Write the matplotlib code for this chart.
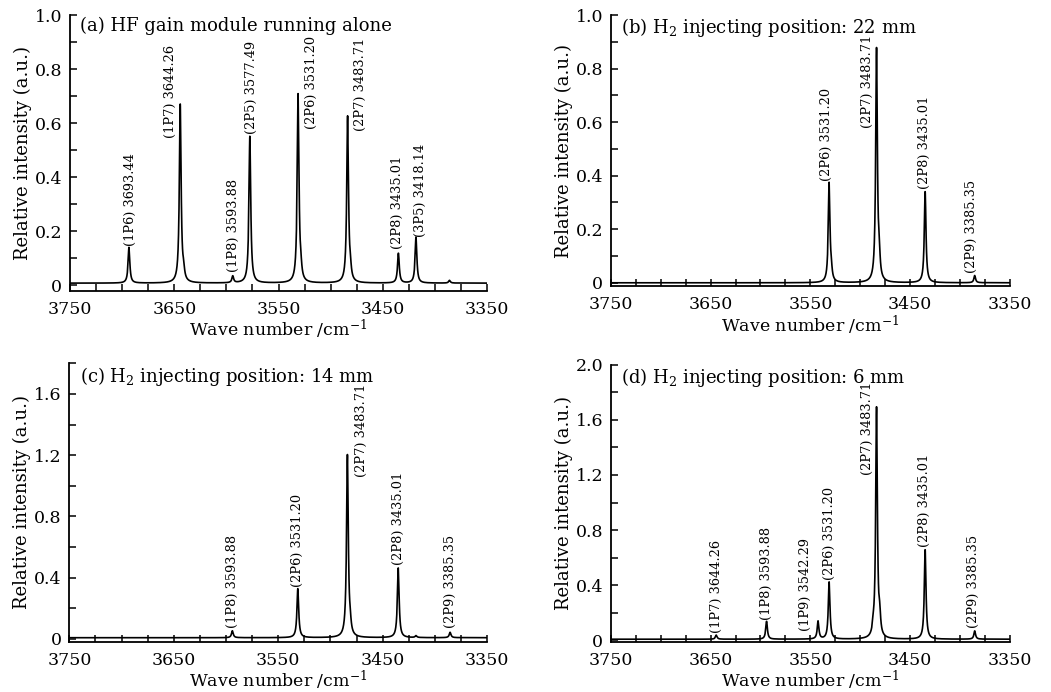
import numpy as np
import matplotlib
matplotlib.use("Agg")
import matplotlib.pyplot as plt
from matplotlib.ticker import MultipleLocator, FixedLocator, FixedFormatter

plt.rcParams['font.family'] = ['DejaVu Serif']
plt.rcParams['mathtext.fontset'] = 'dejavuserif'

# ---------------- data ----------------
# (a) HF gain module running alone
a_labels = ["(1P6) 3693.44", "(1P7) 3644.26", "(1P8) 3593.88", "(2P5) 3577.49",
            "(2P6) 3531.20", "(2P7) 3483.71", "(2P8) 3435.01", "(3P5) 3418.14"]
a_center = [3693.44, 3644.26, 3593.88, 3577.49, 3531.20, 3483.71, 3435.01, 3418.14]
a_height = [0.132, 0.66, 0.025, 0.543, 0.697, 0.615, 0.11, 0.17]
a_extra_center = [3641.0, 3528.5, 3481.0, 3386.0]
a_extra_height = [0.03, 0.03, 0.03, 0.01]
a_baseline = 0.008

# (b) H2 injecting position: 22 mm
b_labels = ["(2P6) 3531.20", "(2P7) 3483.71", "(2P8) 3435.01", "(2P9) 3385.35"]
b_center = [3531.20, 3483.71, 3435.01, 3385.35]
b_height = [0.37, 0.87, 0.34, 0.027]
b_extra_center = [3481.0, 3529.0]
b_extra_height = [0.07, 0.03]
b_baseline = 0.0

# (c) H2 injecting position: 14 mm
c_labels = ["(1P8) 3593.88", "(2P6) 3531.20", "(2P7) 3483.71", "(2P8) 3435.01", "(2P9) 3385.35"]
c_center = [3593.88, 3531.20, 3483.71, 3435.01, 3385.35]
c_height = [0.045, 0.32, 1.19, 0.455, 0.035]
c_extra_center = [3418.0, 3481.0]
c_extra_height = [0.012, 0.05]
c_baseline = 0.008

# (d) H2 injecting position: 6 mm
d_labels = ["(1P7) 3644.26", "(1P8) 3593.88", "(1P9) 3542.29", "(2P6) 3531.20",
            "(2P7) 3483.71", "(2P8) 3435.01", "(2P9) 3385.35"]
d_center = [3644.26, 3593.88, 3542.29, 3531.20, 3483.71, 3435.01, 3385.35]
d_height = [0.03, 0.13, 0.13, 0.415, 1.675, 0.65, 0.06]
d_extra_center = [3480.5, 3487.0]
d_extra_height = [0.12, 0.05]
d_baseline = 0.006

titles = ["(a) HF gain module running alone",
          "(b) H$_2$ injecting position: 22 mm",
          "(c) H$_2$ injecting position: 14 mm",
          "(d) H$_2$ injecting position: 6 mm"]

# ---------------- layout ----------------
a_lab_x = [3692, 3654, 3593.5, 3576, 3518.5, 3471, 3436, 3414]
a_lab_y = [0.145, 0.545, 0.05, 0.56, 0.58, 0.57, 0.136, 0.18]
b_lab_x = [3533.6, 3492.6, 3435.8, 3388.4]
b_lab_y = [0.38, 0.578, 0.35, 0.035]
c_lab_x = [3594, 3531.5, 3470.3, 3434.5, 3384.8]
c_lab_y = [0.07, 0.34, 1.06, 0.48, 0.07]
d_lab_x = [3644.5, 3593.7, 3555.3, 3531, 3492.6, 3435.8, 3386.7]
d_lab_y = [0.05, 0.145, 0.068, 0.44, 1.2, 0.674, 0.085]

panels = [
    dict(pos=[0.0666, 0.5799, 0.3968, 0.3984], ylim=(-0.02, 1.0), ymajor=[0, 0.2, 0.4, 0.6, 0.8, 1.0],
         ylabels=["0", "0.2", "0.4", "0.6", "0.8", "1.0"], yminor=0.1,
         center=a_center, height=a_height, ec=a_extra_center, eh=a_extra_height, base=a_baseline,
         labels=a_labels, lx=a_lab_x, ly=a_lab_y),
    dict(pos=[0.5811, 0.5867, 0.3799, 0.3916], ylim=(-0.012, 1.0), ymajor=[0, 0.2, 0.4, 0.6, 0.8, 1.0],
         ylabels=["0", "0.2", "0.4", "0.6", "0.8", "1.0"], yminor=0.1,
         center=b_center, height=b_height, ec=b_extra_center, eh=b_extra_height, base=b_baseline,
         labels=b_labels, lx=b_lab_x, ly=b_lab_y),
    dict(pos=[0.0660, 0.0727, 0.3974, 0.4023], ylim=(-0.018, 1.8), ymajor=[0, 0.4, 0.8, 1.2, 1.6],
         ylabels=["0", "0.4", "0.8", "1.2", "1.6"], yminor=0.2,
         center=c_center, height=c_height, ec=c_extra_center, eh=c_extra_height, base=c_baseline,
         labels=c_labels, lx=c_lab_x, ly=c_lab_y),
    dict(pos=[0.5811, 0.0727, 0.3799, 0.3999], ylim=(-0.012, 2.0), ymajor=[0, 0.4, 0.8, 1.2, 1.6, 2.0],
         ylabels=["0", "0.4", "0.8", "1.2", "1.6", "2.0"], yminor=0.2,
         center=d_center, height=d_height, ec=d_extra_center, eh=d_extra_height, base=d_baseline,
         labels=d_labels, lx=d_lab_x, ly=d_lab_y),
]

HWHM = 1.0
wn = np.linspace(3350, 3750, 8001)


def spectrum(centers, heights, base):
    y = np.full_like(wn, base)
    for c0, h in zip(centers, heights):
        y += h * HWHM**2 / (HWHM**2 + (wn - c0) ** 2)
    return y


fig = plt.figure(figsize=(10.51, 6.92), dpi=100)
for p, title in zip(panels, titles):
    ax = fig.add_axes(p['pos'])
    y = spectrum(list(p['center']) + list(p['ec']), list(p['height']) + list(p['eh']), p['base'])
    ax.plot(wn, y, color='black', lw=1.2)
    ax.set_xlim(3750, 3350)
    ax.set_ylim(*p['ylim'])
    ax.spines['top'].set_visible(False)
    ax.spines['right'].set_visible(False)
    for s in ('left', 'bottom'):
        ax.spines[s].set_linewidth(1.3)
    ax.xaxis.set_major_locator(FixedLocator([3750, 3650, 3550, 3450, 3350]))
    ax.xaxis.set_major_formatter(FixedFormatter(["3750", "3650", "3550", "3450", "3350"]))
    ax.xaxis.set_minor_locator(MultipleLocator(25))
    ax.yaxis.set_major_locator(FixedLocator(p['ymajor']))
    ax.yaxis.set_major_formatter(FixedFormatter(p['ylabels']))
    ax.yaxis.set_minor_locator(MultipleLocator(p['yminor']))
    ax.tick_params(which='both', direction='in', length=5, width=1.1, labelsize=12.5)
    ax.tick_params(axis='x', which='major', pad=7.5)
    ax.tick_params(axis='y', which='major', pad=5.5)
    ax.set_ylabel("Relative intensity (a.u.)", fontsize=13, labelpad=2)
    ax.set_xlabel("Wave number /cm$^{-1}$", fontsize=12.5, labelpad=0)
    ax.text(0.025, 0.995, title, transform=ax.transAxes, ha='left', va='top', fontsize=13)
    for lab, x, yy in zip(p['labels'], p['lx'], p['ly']):
        ax.text(x, yy, lab, rotation=90, ha='center', va='bottom', fontsize=9.3)

fig.savefig("out.png", dpi=100)
